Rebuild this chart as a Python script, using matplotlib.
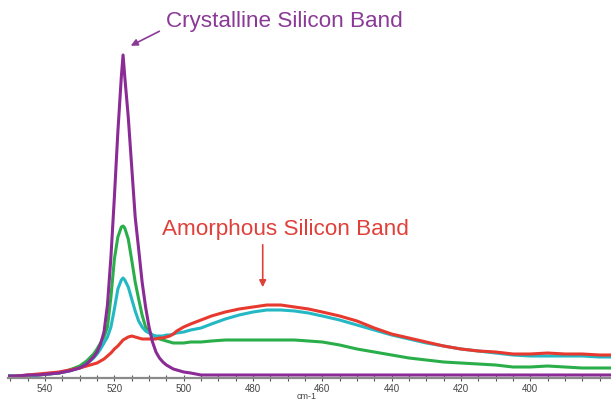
import numpy as np
import matplotlib
matplotlib.use("Agg")
import matplotlib.pyplot as plt

plt.rcParams['font.family'] = ['Liberation Sans', 'DejaVu Sans']

# raman shift, cm-1 (shared grid for all spectra)
wavenumber = [551, 548, 545, 542, 539, 536, 533, 530, 528, 526, 525, 524, 523, 522, 521,
              520, 519, 518, 517.5, 517, 516, 515, 514, 513, 512, 511, 510, 509, 508, 507,
              506, 505, 504, 503, 502, 500, 498, 495, 492, 488, 484, 480, 476, 472, 468,
              464, 460, 455, 450, 445, 440, 435, 430, 425, 420, 415, 410, 405, 400, 395,
              390, 385, 380, 376]

# intensities (arbitrary units)
crystalline = [1, 1, 2, 2, 3, 4, 6, 9, 13, 20, 25, 33, 45, 72, 120,
               180, 245, 300, 322, 300, 260, 210, 160, 128, 95, 70, 50, 35, 25, 19,
               15, 12, 10, 8, 7, 5, 4, 2, 2, 2, 2, 2, 2, 2, 2,
               2, 2, 2, 2, 2, 2, 2, 2, 2, 2, 2, 2, 2, 2, 2,
               2, 2, 2, 2]
mixed_high = [1, 1, 1, 2, 3, 4, 7, 11, 16, 23, 28, 34, 40, 50, 80,
              118, 140, 150, 151, 149, 138, 117, 95, 78, 62, 50, 45, 42, 40, 38,
              37, 36, 35, 34, 34, 34, 35, 35, 36, 37, 37, 37, 37, 37, 37,
              36, 35, 32, 28, 25, 22, 19, 17, 15, 14, 13, 12, 10, 10, 11,
              10, 9, 9, 9]
mixed_low = [1, 1, 1, 2, 3, 4, 6, 9, 13, 19, 23, 28, 34, 40, 50,
             68, 88, 97, 99, 97, 90, 78, 66, 56, 50, 46, 44, 42, 41, 41,
             41, 42, 42, 43, 44, 45, 47, 49, 53, 58, 62, 65, 67, 67, 66,
             64, 61, 57, 52, 47, 42, 38, 34, 31, 28, 26, 24, 22, 21, 21,
             21, 21, 20, 20]
amorphous = [0, 1, 2, 3, 4, 5, 7, 9, 11, 13, 14, 16, 18, 21, 24,
             28, 31, 35, 37, 38, 40, 41, 40, 39, 38, 38, 38, 38, 38, 39,
             39, 40, 41, 43, 46, 50, 53, 57, 61, 65, 68, 70, 72, 72, 70,
             68, 65, 61, 56, 49, 43, 39, 35, 31, 28, 26, 25, 23, 23, 24,
             23, 23, 22, 22]

tick_labels = [540, 520, 500, 480, 460, 440, 420, 400]

fig = plt.figure(figsize=(6.11, 4.04), dpi=100)
ax = fig.add_axes([8 / 611, 26 / 404, 603 / 611, 378 / 404])

lw = 2.2
ax.plot(wavenumber, mixed_high, color='#2aae4a', lw=lw, solid_joinstyle='round')
ax.plot(wavenumber, mixed_low, color='#24b8c4', lw=lw, solid_joinstyle='round')
ax.plot(wavenumber, amorphous, color='#e8392f', lw=lw, solid_joinstyle='round')
ax.plot(wavenumber, crystalline, color='#8a2b96', lw=lw, solid_joinstyle='round')

ax.set_xlim(550.7, 376.7)
ax.set_ylim(-1, 377)

for s in ['top', 'left', 'right']:
    ax.spines[s].set_visible(False)
ax.spines['bottom'].set_color('#8a8a8a')
ax.spines['bottom'].set_linewidth(1.6)
ax.set_yticks([])
ax.set_xticks(np.arange(380, 551, 5), minor=True)
ax.set_xticks(tick_labels)
ax.set_xticklabels([str(t) for t in tick_labels])
ax.tick_params(axis='x', which='both', direction='inout', length=4, width=0.8,
               color='#555555', labelsize=7, labelcolor='#444444', pad=2)
ax.set_xlabel('cm-1', fontsize=6.5, color='#444444')
ax.xaxis.set_label_coords(0.495, -0.036)

# labels with arrows
ax.annotate('', xy=(516.0, 330), xytext=(506.3, 347),
            arrowprops=dict(arrowstyle='-|>', color='#8a3a96', lw=1.2, mutation_scale=10),
            annotation_clip=False)
ax.text(471.0, 355.3, 'Crystalline Silicon Band', color='#8a3a96', fontsize=16.2,
        ha='center', va='center')

ax.annotate('', xy=(477.2, 87), xytext=(477.2, 135),
            arrowprops=dict(arrowstyle='-|>', color='#e0403a', lw=1.2, mutation_scale=10))
ax.text(470.5, 147, 'Amorphous Silicon Band', color='#e0403a', fontsize=16.2,
        ha='center', va='center')

fig.savefig('out.png', dpi=100)
